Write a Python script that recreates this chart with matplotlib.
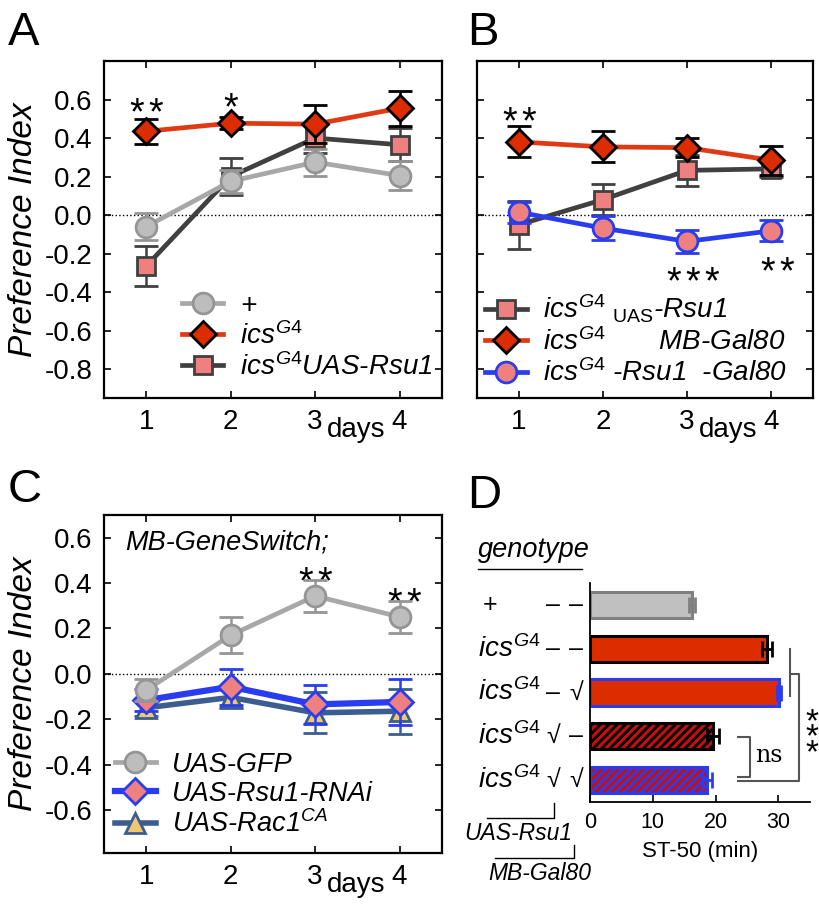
import matplotlib
matplotlib.use('Agg')
import matplotlib.pyplot as plt
from matplotlib.transforms import blended_transform_factory

plt.rcParams['font.family'] = ['Liberation Sans', 'DejaVu Sans']
plt.rcParams['mathtext.fontset'] = 'custom'
plt.rcParams['mathtext.rm'] = 'Liberation Sans'
plt.rcParams['mathtext.it'] = 'Liberation Sans:italic'
plt.rcParams['hatch.linewidth'] = 2.0

# data
days = [1, 2, 3, 4]

# A
a_wt = [-0.06, 0.175, 0.275, 0.205]
a_wt_err = [0.07, 0.06, 0.07, 0.075]
a_ics = [0.435, 0.477, 0.472, 0.555]
a_ics_err = [0.065, 0.03, 0.1, 0.09]
a_rsu = [-0.265, 0.2, 0.4, 0.365]
a_rsu_err = [0.105, 0.095, 0.08, 0.085]

# B
b_rsu = [-0.05, 0.08, 0.232, 0.24]
b_rsu_err = [0.125, 0.08, 0.08, 0.04]
b_gal = [0.38, 0.354, 0.35, 0.285]
b_gal_err = [0.08, 0.08, 0.05, 0.075]
b_both = [0.015, -0.068, -0.137, -0.082]
b_both_err = [0.055, 0.063, 0.06, 0.055]

# C
c_gfp = [-0.072, 0.17, 0.343, 0.251]
c_gfp_err = [0.05, 0.08, 0.07, 0.07]
c_rnai = [-0.116, -0.057, -0.135, -0.124]
c_rnai_err = [0.05, 0.08, 0.085, 0.1]
c_rac = [-0.15, -0.104, -0.172, -0.165]
c_rac_err = [0.035, 0.045, 0.09, 0.1]

# significance stars: (x, y-centre, count)
a_stars = [(1, 0.58, 2), (2, 0.61, 1)]
b_stars = [(1, 0.535, 2), (3.07, -0.295, 3), (4.07, -0.243, 2)]
c_stars = [(3, 0.45, 2), (4.05, 0.357, 2)]

# D
d_rows = ['+', '$ics^{G4}$', '$ics^{G4}$', '$ics^{G4}$', '$ics^{G4}$']
d_rsu = ['\u2013', '\u2013', '\u2013', '\u221a', '\u221a']
d_gal = ['\u2013', '\u2013', '\u221a', '\u2013', '\u221a']
d_st50 = [16.3, 28.2, 30.1, 19.6, 18.7]
d_err = [0.5, 0.8, 0.3, 1.0, 0.8]

fig = plt.figure(figsize=(8.2, 9.08), dpi=100)

gray_f, gray_e, gray_l = '#bdbdbd', '#959595', '#a8a8a8'
red_f, red_l = '#dd2c00', '#e03a14'
sq_f, sq_e = '#ee8080', '#404040'
blue = '#2a3cf0'
steel = '#3b5d90'
yel = '#f0c870'


def series(ax, y, err, mk, fc, ec, lc, lw=3.4, ms=15, z=3, mew=2):
    ax.errorbar(days, y, yerr=err, color=lc, lw=lw, marker=mk, ms=ms,
                mfc=fc, mec=ec, mew=mew, ecolor=ec, elinewidth=1.8,
                capsize=8.5, capthick=1.8, zorder=z)


def handle(ax, mk, fc, ec, lc, lw=3.4, ms=15):
    return ax.plot([], [], marker=mk, color=lc, lw=lw, ms=ms, mfc=fc,
                   mec=ec, mew=2)[0]


def style(ax, ylim, ticks, labels=True):
    ax.set_xlim(0.5, 4.5)
    ax.set_ylim(*ylim)
    ax.set_xticks(days)
    ax.set_yticks(ticks)
    ax.axhline(0, color='k', ls=':', lw=1, zorder=1)
    ax.tick_params(direction='in', length=5, width=1.2, top=True, right=True,
                   labelsize=20, pad=8)
    if labels:
        ax.set_yticklabels(['%.1f' % t for t in ticks])
    else:
        ax.set_yticklabels([])
    for s in ax.spines.values():
        s.set_linewidth(1.6)
    ax.text(3.49, -0.055, 'days', transform=ax.get_xaxis_transform(),
            ha='center', va='top', fontsize=20)


def put_stars(ax, x, y, n, size=27, gap=13.5, vertical=False):
    # each star placed on its own, gap in points between centres
    base = -0.57 * size
    for i in range(n):
        d = gap * (i - (n - 1) / 2)
        off = (0, base - d) if vertical else (d, base)
        ax.annotate('*', (x, y), xytext=off, textcoords='offset points',
                    ha='center', va='baseline', fontsize=size,
                    annotation_clip=False)


leg_kw = dict(frameon=False, fontsize=20, handlelength=1.5, labelspacing=0.12,
              handletextpad=0.6, borderpad=0, borderaxespad=0,
              loc='center left')

# panel A
axA = fig.add_axes([0.1268, 0.5617, 0.412, 0.3711])
series(axA, a_wt, a_wt_err, 'o', gray_f, gray_e, gray_l, z=4)
series(axA, a_ics, a_ics_err, 'D', red_f, 'k', red_l, ms=13, z=5)
series(axA, a_rsu, a_rsu_err, 's', sq_f, sq_e, sq_e, ms=13, z=3)
style(axA, (-0.95, 0.8), [0.6, 0.4, 0.2, 0.0, -0.2, -0.4, -0.6, -0.8])
axA.set_ylabel('Preference Index', fontsize=24, style='italic', labelpad=4)
for x, y, n in a_stars:
    put_stars(axA, x, y, n)
hA = [handle(axA, 'o', gray_f, gray_e, gray_l),
      handle(axA, 'D', red_f, 'k', red_l, ms=13),
      handle(axA, 's', sq_f, sq_e, sq_e, ms=13)]
axA.legend(hA, ['+', '$ics^{G4}$', '$ics^{G4}$UAS-Rsu1'],
           bbox_to_anchor=(0.23, 0.181), prop={'style': 'italic', 'size': 20},
           **leg_kw)
fig.text(8 / 820, 1 - 45 / 908, 'A', fontsize=34, va='baseline')

# panel B
axB = fig.add_axes([0.5817, 0.5617, 0.4098, 0.3711])
series(axB, b_rsu, b_rsu_err, 's', sq_f, sq_e, sq_e, ms=13, z=3)
series(axB, b_gal, b_gal_err, 'D', red_f, 'k', red_l, ms=13, z=5)
series(axB, b_both, b_both_err, 'o', sq_f, blue, blue, z=4)
style(axB, (-0.95, 0.8), [0.6, 0.4, 0.2, 0.0, -0.2, -0.4, -0.6, -0.8], labels=False)
for x, y, n in b_stars:
    put_stars(axB, x, y, n)
hB = [handle(axB, 's', sq_f, sq_e, sq_e, ms=13),
      handle(axB, 'D', red_f, 'k', red_l, ms=13),
      handle(axB, 'o', sq_f, blue, blue)]
axB.legend(hB, ['$ics^{G4}$ $_{\\mathrm{UAS}}$-Rsu1',
                '$ics^{G4}$       MB-Gal80',
                '$ics^{G4}$ -Rsu1  -Gal80'],
           bbox_to_anchor=(0.024, 0.172), prop={'style': 'italic', 'size': 20},
           **leg_kw)
fig.text(467 / 820, 1 - 45 / 908, 'B', fontsize=34, va='baseline')

# panel C
axC = fig.add_axes([0.1268, 0.0606, 0.412, 0.3722])
series(axC, c_rac, c_rac_err, '^', yel, steel, steel, lw=4, ms=15, z=3)
series(axC, c_rnai, c_rnai_err, 'D', sq_f, blue, blue, lw=4.5, ms=13, z=4)
series(axC, c_gfp, c_gfp_err, 'o', gray_f, gray_e, gray_l, z=5)
style(axC, (-0.79, 0.7), [0.6, 0.4, 0.2, 0.0, -0.2, -0.4, -0.6])
axC.set_ylabel('Preference Index', fontsize=24, style='italic', labelpad=4)
for x, y, n in c_stars:
    put_stars(axC, x, y, n)
axC.text(0.75, 0.58, 'MB-GeneSwitch;', ha='left', va='center', fontsize=19.5,
         style='italic')
hC = [handle(axC, 'o', gray_f, gray_e, gray_l),
      handle(axC, 'D', sq_f, blue, blue, lw=4.5, ms=13),
      handle(axC, '^', yel, steel, steel, lw=4)]
axC.legend(hC, ['UAS-GFP', 'UAS-Rsu1-RNAi', 'UAS-Rac1$^{CA}$'],
           bbox_to_anchor=(0.033, 0.172), prop={'style': 'italic', 'size': 19.5},
           **leg_kw)
fig.text(8 / 820, 1 - 502 / 908, 'C', fontsize=34, va='baseline')

# panel D
axD = fig.add_axes([0.7195, 0.1167, 0.268, 0.2412])
ypos = [4, 3, 2, 1, 0]
fcs = ['#c0c0c0', '#dd2c00', '#dd2c00', '#c21010', '#c21010']
ecs = ['#808080', 'k', blue, 'k', blue]
hatches = [None, None, None, '////', '////']
for y, v, e, fc, ec, h in zip(ypos, d_st50, d_err, fcs, ecs, hatches):
    axD.barh(y, v, height=0.6, color=fc, edgecolor=ec, linewidth=2.2,
             hatch=h, zorder=2)
    axD.errorbar(v, y, xerr=e, color=ec, capsize=6, capthick=2, elinewidth=2,
                 fmt='none', zorder=3)
axD.set_xlim(0, 35)
axD.set_ylim(-0.5, 4.5)
axD.set_yticks([])
axD.set_xticks([0, 10, 20, 30])
axD.tick_params(axis='x', direction='in', length=5, width=1.2, labelsize=15.5, pad=7)
axD.spines['top'].set_visible(False)
axD.spines['right'].set_visible(False)
for s in ['left', 'bottom']:
    axD.spines[s].set_linewidth(1.3)
axD.set_xlabel('ST-50 (min)', fontsize=16, labelpad=6)

# significance brackets
bk = dict(color='#555555', lw=1.5, clip_on=False)
axD.plot([31.9, 31.9], [3.0, 1.93], **bk)
axD.plot([31.9, 33.3, 33.3, 23.6], [2.43, 2.43, -0.02, -0.02], **bk)
axD.plot([23.6, 25.5, 25.5, 23.6], [0.98, 0.98, 0.07, 0.07], **bk)
axD.text(26.3, 0.57, 'ns', fontsize=17, family='DejaVu Serif', va='center')
put_stars(axD, 35.3, 1.2, 3, size=24, gap=11, vertical=True)

# genotype table
trans = blended_transform_factory(fig.transFigure, axD.transData)
for y, g, r, m in zip(ypos, d_rows, d_rsu, d_gal):
    if g == '+':
        fig.text(490 / 820, y, g, transform=trans, fontsize=18, ha='center', va='center')
    else:
        fig.text(478 / 820, y, g, transform=trans, fontsize=20, ha='left', va='center',
                 style='italic')
    fig.text(553 / 820, y, r, transform=trans, fontsize=18, ha='center', va='center')
    fig.text(576 / 820, y, m, transform=trans, fontsize=18, ha='center', va='center')

fig.text(478 / 820, 1 - 550 / 908, 'genotype', fontsize=19.5, style='italic', va='center')
fig.add_artist(plt.Line2D([478 / 820, 582 / 820], [1 - 569 / 908] * 2, color='k', lw=1))
fig.add_artist(plt.Line2D([487 / 820, 554 / 820, 554 / 820],
                          [1 - 818 / 908, 1 - 818 / 908, 1 - 803 / 908], color='k', lw=1))
fig.text(518 / 820, 1 - 833 / 908, 'UAS-Rsu1', fontsize=16.5, style='italic',
         ha='center', va='center')
fig.add_artist(plt.Line2D([495 / 820, 574 / 820, 574 / 820],
                          [1 - 858 / 908, 1 - 858 / 908, 1 - 845 / 908], color='k', lw=1))
fig.text(540 / 820, 1 - 873 / 908, 'MB-Gal80', fontsize=16.5, style='italic',
         ha='center', va='center')
fig.text(467 / 820, 1 - 508 / 908, 'D', fontsize=34, va='baseline')

fig.savefig('out.png', dpi=100)
